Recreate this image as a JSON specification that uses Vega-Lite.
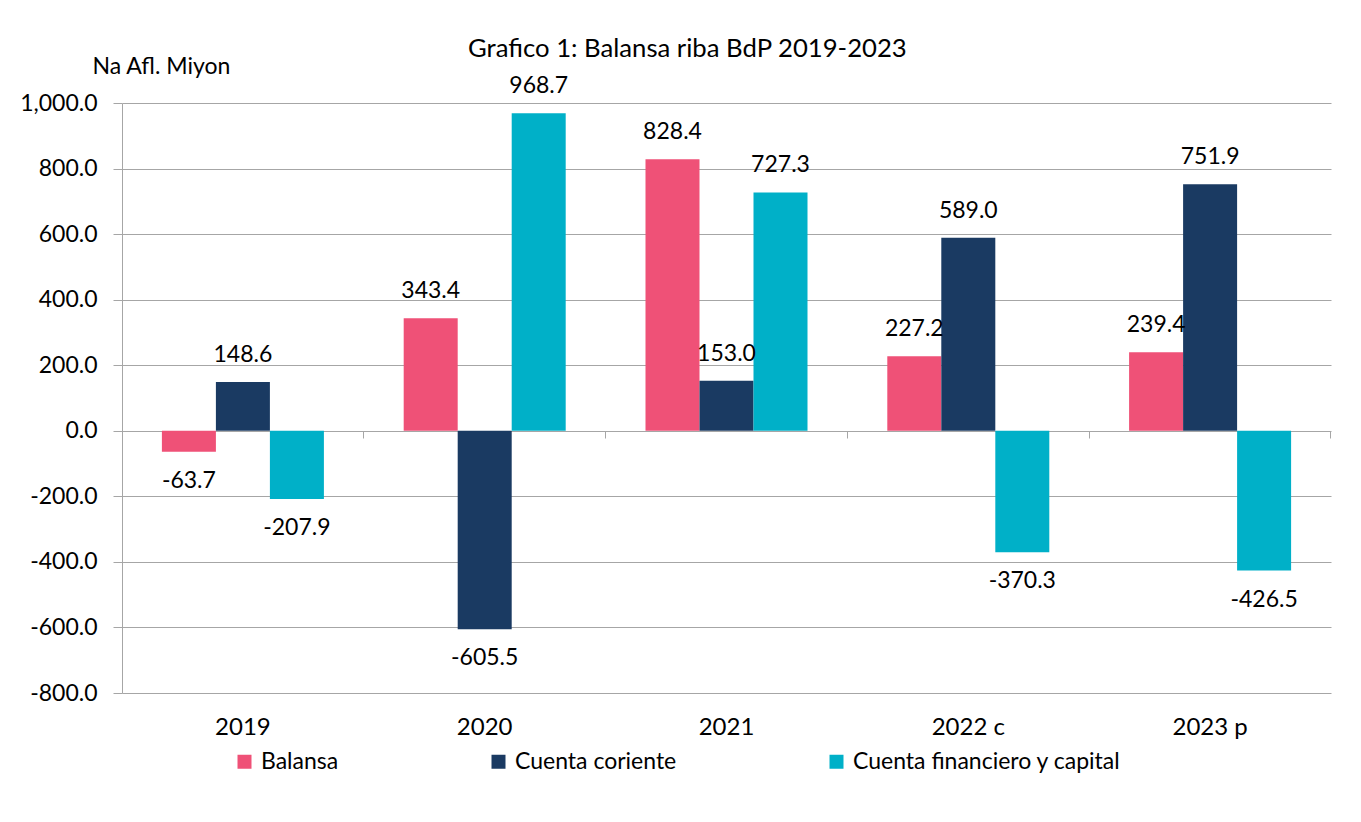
{
  "$schema": "https://vega.github.io/schema/vega-lite/v6.json",
  "width": 1209,
  "height": 590,
  "autosize": {"type": "none"},
  "padding": {"left": 122, "top": 103, "right": 30, "bottom": 129},
  "background": "white",
  "config": {
    "font": "Lato",
    "view": {"stroke": null},
    "locale": {"number": {"decimal": ".", "thousands": ",", "grouping": [3], "currency": ["$", ""], "minus": "-"}},
    "axis": {"labelFont": "Lato", "titleFont": "Lato", "labelColor": "#000000", "titleColor": "#000000"}
  },
  "title": {
    "text": "Grafico 1: Balansa riba BdP 2019-2023",
    "anchor": "start",
    "frame": "group",
    "dx": 346,
    "offset": -28,
    "fontSize": 25.7,
    "fontWeight": "normal",
    "font": "Lato",
    "color": "#000000",
    "baseline": "alphabetic"
  },
  "data": {
    "values": [
      {"year": "2019", "series": "Balansa", "value": -63.7},
      {"year": "2019", "series": "Cuenta coriente", "value": 148.6},
      {"year": "2019", "series": "Cuenta financiero y capital", "value": -207.9},
      {"year": "2020", "series": "Balansa", "value": 343.4},
      {"year": "2020", "series": "Cuenta coriente", "value": -605.5},
      {"year": "2020", "series": "Cuenta financiero y capital", "value": 968.7},
      {"year": "2021", "series": "Balansa", "value": 828.4},
      {"year": "2021", "series": "Cuenta coriente", "value": 153.0},
      {"year": "2021", "series": "Cuenta financiero y capital", "value": 727.3},
      {"year": "2022 c", "series": "Balansa", "value": 227.2},
      {"year": "2022 c", "series": "Cuenta coriente", "value": 589.0},
      {"year": "2022 c", "series": "Cuenta financiero y capital", "value": -370.3},
      {"year": "2023 p", "series": "Balansa", "value": 239.4},
      {"year": "2023 p", "series": "Cuenta coriente", "value": 751.9},
      {"year": "2023 p", "series": "Cuenta financiero y capital", "value": -426.5}
    ]
  },
  "encoding": {
    "xOffset": {
      "field": "series",
      "type": "nominal",
      "sort": ["Balansa", "Cuenta coriente", "Cuenta financiero y capital"],
      "scale": {"paddingInner": 0, "paddingOuter": 0}
    },
    "y": {
      "field": "value",
      "type": "quantitative",
      "scale": {"domain": [-800, 1000], "nice": false, "zero": false},
      "axis": {
        "values": [-800, -600, -400, -200, 0, 200, 400, 600, 800, 1000],
        "format": ",.1f",
        "labelFontSize": 23,
        "labelPadding": 16,
        "tickSize": 9,
        "tickColor": "#a6a6a6",
        "domainColor": "#a6a6a6",
        "gridColor": "#a6a6a6",
        "grid": true,
        "title": "Na Afl. Miyon",
        "titleAngle": 0,
        "titleAlign": "left",
        "titleBaseline": "alphabetic",
        "titleX": -30,
        "titleY": -30,
        "titleFontSize": 23,
        "titleFontWeight": "normal"
      }
    }
  },
  "resolve": {"axis": {"x": "independent"}},
  "layer": [
    {
      "mark": {"type": "bar"},
      "encoding": {
        "x": {
          "field": "year",
          "type": "nominal",
          "sort": null,
          "scale": {"paddingInner": 0.33, "paddingOuter": 0.165},
          "axis": {
            "orient": "bottom",
            "title": null,
            "labelAngle": 0,
            "labelFontSize": 24,
            "labelPadding": 22,
            "ticks": false,
            "domain": false,
            "grid": false
          }
        },
        "color": {
          "field": "series",
          "type": "nominal",
          "scale": {
            "domain": ["Balansa", "Cuenta coriente", "Cuenta financiero y capital"],
            "range": ["#EF5177", "#1A3A62", "#00B0C8"]
          },
          "legend": {
            "title": null,
            "orient": "none",
            "direction": "horizontal",
            "legendX": 111,
            "legendY": 647,
            "symbolType": "square",
            "symbolSize": 196,
            "symbolStrokeWidth": 0,
            "labelFontSize": 23,
            "labelFont": "Lato",
            "labelColor": "#000000",
            "labelOffset": 5,
            "columnPadding": 148,
            "labelLimit": 400
          }
        }
      }
    },
    {
      "transform": [{"filter": "datum.value >= 0"}],
      "mark": {"type": "text", "dy": -27, "fontSize": 23, "font": "Lato", "color": "#000000", "baseline": "middle"},
      "encoding": {
        "x": {"field": "year", "type": "nominal", "sort": null, "axis": null},
        "text": {"field": "value", "type": "quantitative", "format": ".1f"}
      }
    },
    {
      "transform": [{"filter": "datum.value < 0"}],
      "mark": {"type": "text", "dy": 29, "fontSize": 23, "font": "Lato", "color": "#000000", "baseline": "middle"},
      "encoding": {
        "text": {"field": "value", "type": "quantitative", "format": ".1f"},
        "x": {
          "field": "year",
          "type": "nominal",
          "sort": null,
          "axis": {
            "orient": "bottom",
            "offset": -262,
            "title": null,
            "labels": false,
            "domain": false,
            "grid": false,
            "ticks": true,
            "tickSize": 7,
            "tickColor": "#a6a6a6",
            "bandPosition": 1.2457
          }
        }
      }
    }
  ]
}
